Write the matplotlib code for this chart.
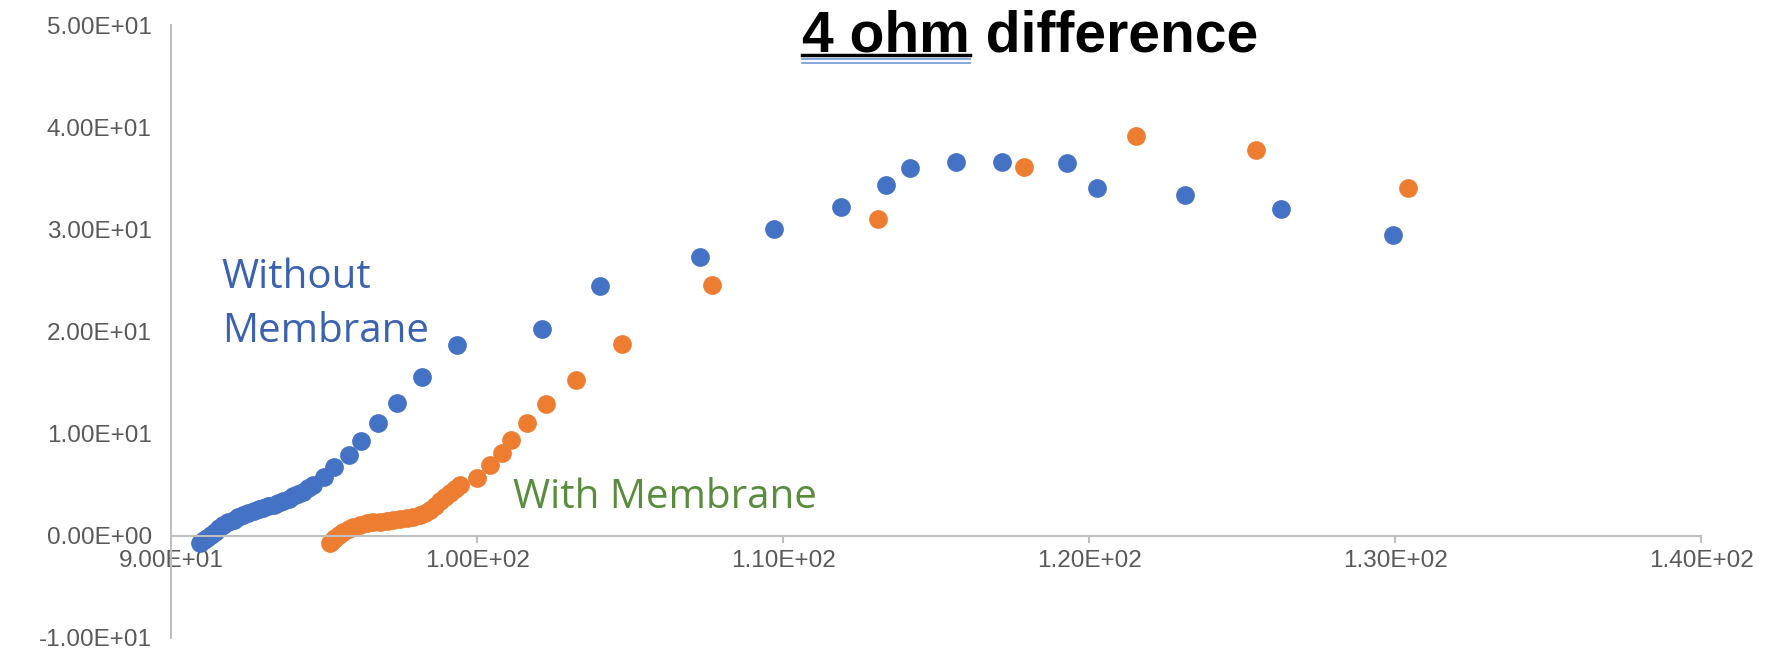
import matplotlib
matplotlib.use("Agg")
import matplotlib.pyplot as plt
from matplotlib.lines import Line2D

# 값은 그림에서 읽은 추정치
without_x = [90.95, 91.06, 91.17, 91.30, 91.44, 91.57, 91.71, 91.87, 92.04, 92.20,
             92.36, 92.53, 92.70, 92.86, 93.02, 93.18, 93.35, 93.51, 93.67, 93.84,
             94.00, 94.16, 94.32, 94.48, 94.65, 95.00, 95.34, 95.81, 96.20, 96.75,
             97.39, 98.21, 99.34, 102.11, 104.02, 107.29, 109.71, 111.90, 113.37, 114.16,
             115.66, 117.17, 119.27, 120.27, 123.15, 126.26, 129.92]
without_y = [-0.71, -0.45, -0.23, 0.10, 0.42, 0.75, 1.08, 1.33, 1.57, 1.82,
             2.05, 2.25, 2.45, 2.58, 2.70, 2.87, 3.03, 3.22, 3.42, 3.63,
             3.85, 4.08, 4.33, 4.65, 5.00, 5.80, 6.70, 7.90, 9.30, 11.00,
             13.05, 15.50, 18.65, 20.25, 24.50, 27.30, 30.00, 32.20, 34.30, 36.00,
             36.60, 36.60, 36.50, 34.00, 33.40, 32.00, 29.40]

with_x = [95.20, 95.28, 95.36, 95.50, 95.63, 95.80, 95.96, 96.18, 96.40, 96.61,
          96.83, 97.05, 97.26, 97.48, 97.70, 97.92, 98.14, 98.30, 98.46, 98.62,
          98.79, 98.95, 99.12, 99.28, 99.44, 100.00, 100.42, 100.80, 101.12, 101.62,
          102.24, 103.23, 104.73, 107.69, 113.11, 117.88, 121.54, 125.45, 130.43]
with_y = [-0.71, -0.45, -0.23, 0.10, 0.42, 0.70, 0.91, 1.08, 1.24, 1.32,
          1.40, 1.48, 1.57, 1.65, 1.73, 1.88, 2.05, 2.28, 2.54, 2.94,
          3.36, 3.77, 4.18, 4.60, 5.00, 5.65, 6.90, 8.15, 9.40, 11.00,
          12.95, 15.30, 18.76, 24.60, 31.00, 36.10, 39.10, 37.80, 34.00]

x_ticks = [90, 100, 110, 120, 130, 140]
y_ticks = [-10, 0, 10, 20, 30, 40, 50]

fig = plt.figure(figsize=(17.71, 6.5), dpi=100)
ax = fig.add_axes([0.0966, 0.0185, 0.8639, 0.943])

ax.plot(without_x, without_y, 'o', color='#4472C4', markersize=13.5, markeredgewidth=0)
ax.plot(with_x, with_y, 'o', color='#ED7D31', markersize=13.5, markeredgewidth=0)

ax.set_xlim(90, 140)
ax.set_ylim(-10, 50)
ax.set_xticks(x_ticks)
ax.set_yticks(y_ticks)
ax.set_xticklabels(['%.2E' % v for v in x_ticks])
ax.set_yticklabels(['%.2E' % v for v in y_ticks])

for s in ['top', 'right']:
    ax.spines[s].set_visible(False)
ax.spines['bottom'].set_position(('data', 0))
ax.spines['bottom'].set_color('#BFBFBF')
ax.spines['left'].set_color('#BFBFBF')
ax.spines['bottom'].set_linewidth(1.5)
ax.spines['left'].set_linewidth(1.5)

ax.tick_params(axis='x', direction='out', length=5, width=1.5, color='#BFBFBF',
               labelcolor='#595959', pad=5)
ax.tick_params(axis='y', length=0, labelcolor='#595959', pad=14)
for lab in ax.get_xticklabels() + ax.get_yticklabels():
    lab.set_fontfamily('Liberation Sans')
    lab.set_fontsize(17.5)

ax.text(91.66, 24.3, "Without", color='#3A62B0', fontsize=29, family='Open Sans', va='baseline')
ax.text(91.66, 19.0, "Membrane", color='#3A62B0', fontsize=29, family='Open Sans', va='baseline')
ax.text(101.18, 2.74, "With Membrane", color='#5A8C3E', fontsize=29, family='Open Sans', va='baseline')

# 제목 + 밑줄
tx, ty = 802 / 1771, 1 - 51 / 650
title = fig.text(tx, ty, "4 ohm difference", fontsize=41, fontweight='bold',
                 family='Liberation Sans', va='baseline', ha='left')
part = fig.text(tx, ty, "4 ohm", fontsize=41, fontweight='bold',
                family='Liberation Sans', va='baseline', ha='left', alpha=0)
fig.canvas.draw()
bb = part.get_window_extent().transformed(fig.transFigure.inverted())
x0, x1 = bb.x0, bb.x1
fig.add_artist(Line2D([x0, x1], [1 - 55 / 650] * 2, color='black', lw=2.5))
fig.add_artist(Line2D([x0, x1], [1 - 59 / 650] * 2, color='#7E9FDB', lw=1.3))
fig.add_artist(Line2D([x0, x1], [1 - 63 / 650] * 2, color='#7E9FDB', lw=1.3))

fig.savefig('out.png', dpi=100)
